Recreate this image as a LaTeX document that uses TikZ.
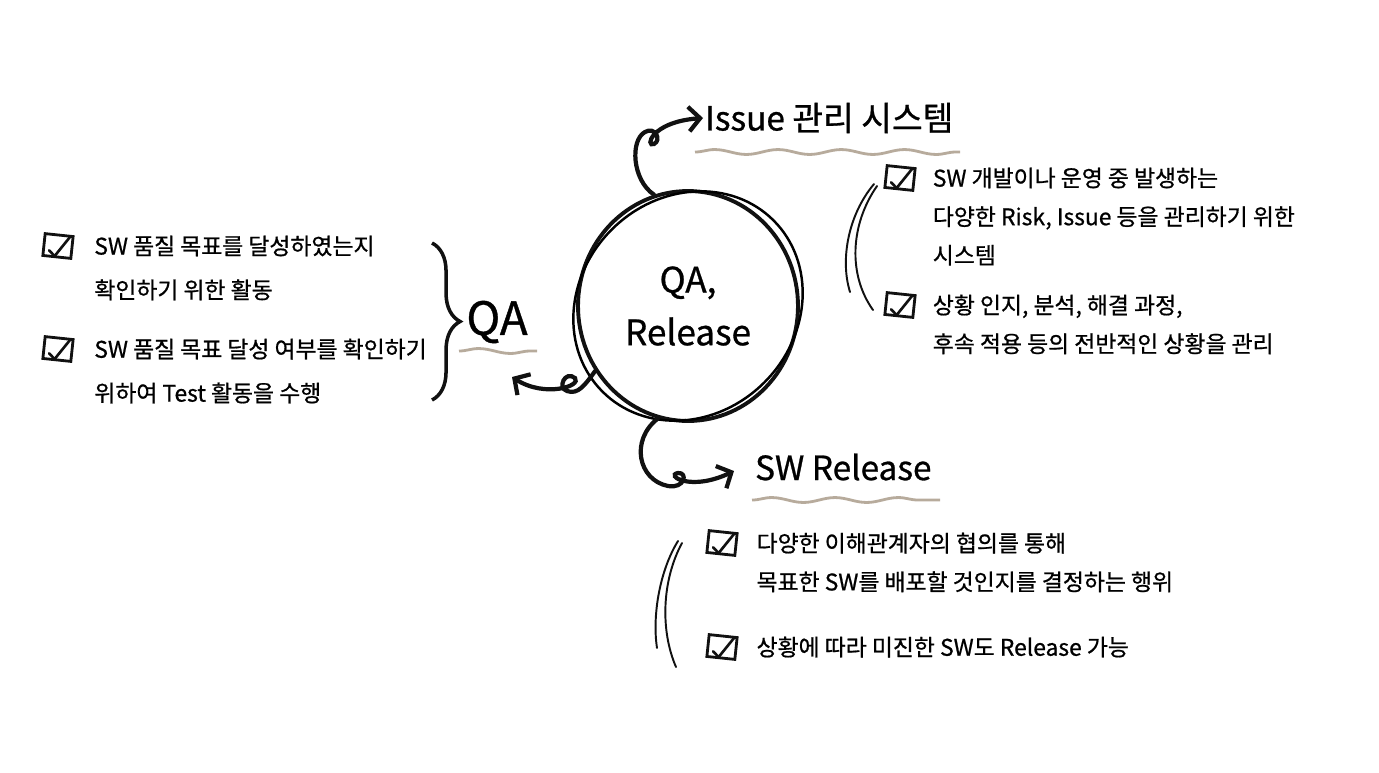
\documentclass[tikz,border=0pt]{standalone}
\usepackage{fontspec}
\setmainfont[FakeBold=0.8]{Noto Sans CJK KR}
\usepackage{tikz}
\usetikzlibrary{arrows.meta, positioning, calc, shapes.geometric,
  decorations.pathmorphing, decorations.pathreplacing}
\definecolor{ink}{HTML}{111111}
\definecolor{wavy}{HTML}{B7AB9C}

\begin{document}
\begin{tikzpicture}[x=0.02cm, y=-0.02cm,
    core/.style={ellipse, draw=ink, line width=2.2pt, minimum width=4.4cm,
                 minimum height=4.6cm, align=center, inner sep=0pt,
                 font=\fontsize{20}{30}\selectfont},
    titel/.style={inner sep=1pt, font=\fontsize{19}{22}\selectfont},
    item/.style={align=left, inner sep=0pt, font=\fontsize{13}{25}\selectfont},
    itemr/.style={item, font=\fontsize{13}{22}\selectfont},
    chk/.style={draw=ink, line width=1.6pt, minimum width=16pt,
                minimum height=12.5pt, inner sep=0pt, rotate=-6,
                path picture={\draw[line width=1.5pt, line cap=round]
                  ([xshift=3pt,yshift=5pt]path picture bounding box.south west)
                  -- ([xshift=6.5pt,yshift=2pt]path picture bounding box.south west)
                  -- ([xshift=-1.5pt,yshift=-2pt]path picture bounding box.north east);}},
    welle/.style={draw=wavy, line width=1.6pt, decorate,
                  decoration={snake, segment length=36pt, amplitude=1.4pt}},
    kurve/.style={draw=ink, line width=2.4pt, line cap=round,
                  -{Straight Barb[length=6.5pt, width=14pt]}},
    bogen/.style={draw=ink, line width=1.1pt, line cap=round},
    klammer/.style={draw=ink, line width=2pt, decorate,
                    decoration={brace, amplitude=16pt}}]
  \useasboundingbox (0,0) rectangle (1379,772);

  % center
  \node[core] (core) at (688,306) {QA,\\Release};
  \draw[line width=1.4pt, rotate around={45:(core.center)}]
    (core.center) ellipse [x radius=121, y radius=108];

  % QA side
  \node[font=\fontsize{26}{30}\selectfont, inner sep=2pt] (qa) at (497,322) {QA};
  \draw[welle] (459,351) -- (537,351);
  \coordinate (qatip) at (512,377);
  \draw[kurve] (core.215) .. controls (585,385) and (578,395) .. (567,391)
    .. controls (557,388) and (565,370) .. (575,378)
    .. controls (582,386) and (545,398) .. (qatip);
  \draw[klammer] (432,243) -- (432,400);

  \node[chk] (chkL1) at (58,246) {};
  \node[item, anchor=north west] (txtL1) at ([xshift=11pt,yshift=0pt]chkL1.north east)
    {SW 품질 목표를 달성하였는지\\확인하기 위한 활동};
  \node[chk] (chkL2) at (58,349) {};
  \node[item, anchor=north west] (txtL2) at ([xshift=11pt,yshift=0pt]chkL2.north east)
    {SW 품질 목표 달성 여부를 확인하기\\위하여 Test 활동을 수행};

  % Issue side
  \node[titel, anchor=west] (issue) at (703,118) {Issue 관리 시스템};
  \draw[welle] (695,152) -- (960,152);
  \draw[kurve] (core.107) .. controls (632,180) and (630,140) .. (645,132)
    .. controls (655,126) and (662,140) .. (654,144)
    .. controls (645,148) and (650,122) .. (issue.west);
  \draw[bogen] (874,184) .. controls (848,215) and (840,260) .. (850,292);
  \draw[bogen] (877,186) .. controls (850,225) and (848,275) .. (873,310);

  \node[chk] (chkR1) at (900,178) {};
  \node[itemr, anchor=north west] (txtR1) at ([xshift=9pt,yshift=0pt]chkR1.north east)
    {SW 개발이나 운영 중 발생하는\\다양한 Risk, Issue 등을 관리하기 위한\\시스템};
  \node[chk] (chkR2) at (900,305) {};
  \node[itemr, anchor=north west] (txtR2) at ([xshift=9pt,yshift=0pt]chkR2.north east)
    {상황 인지, 분석, 해결 과정,\\후속 적용 등의 전반적인 상황을 관리};

  % Release side
  \node[titel, anchor=west] (rel) at (753,467) {SW Release};
  \draw[welle] (752,500) -- (940,500);
  \coordinate (reltip) at (734,471);
  \draw[kurve] (core.255) .. controls (630,440) and (638,480) .. (668,486)
    .. controls (685,489) and (688,472) .. (678,473)
    .. controls (665,475) and (690,492) .. (reltip);
  \draw[bogen] (678,541) .. controls (660,570) and (652,615) .. (657,648);
  \draw[bogen] (682,543) .. controls (662,580) and (660,630) .. (676,667);

  \node[chk] (chkB1) at (722,543) {};
  \node[itemr, anchor=north west] (txtB1) at ([xshift=10pt,yshift=0pt]chkB1.north east)
    {다양한 이해관계자의 협의를 통해\\목표한 SW를 배포할 것인지를 결정하는 행위};
  \node[chk] (chkB2) at (722,647) {};
  \node[itemr, anchor=north west] (txtB2) at ([xshift=10pt,yshift=0pt]chkB2.north east)
    {상황에 따라 미진한 SW도 Release 가능};
\end{tikzpicture}
\end{document}
